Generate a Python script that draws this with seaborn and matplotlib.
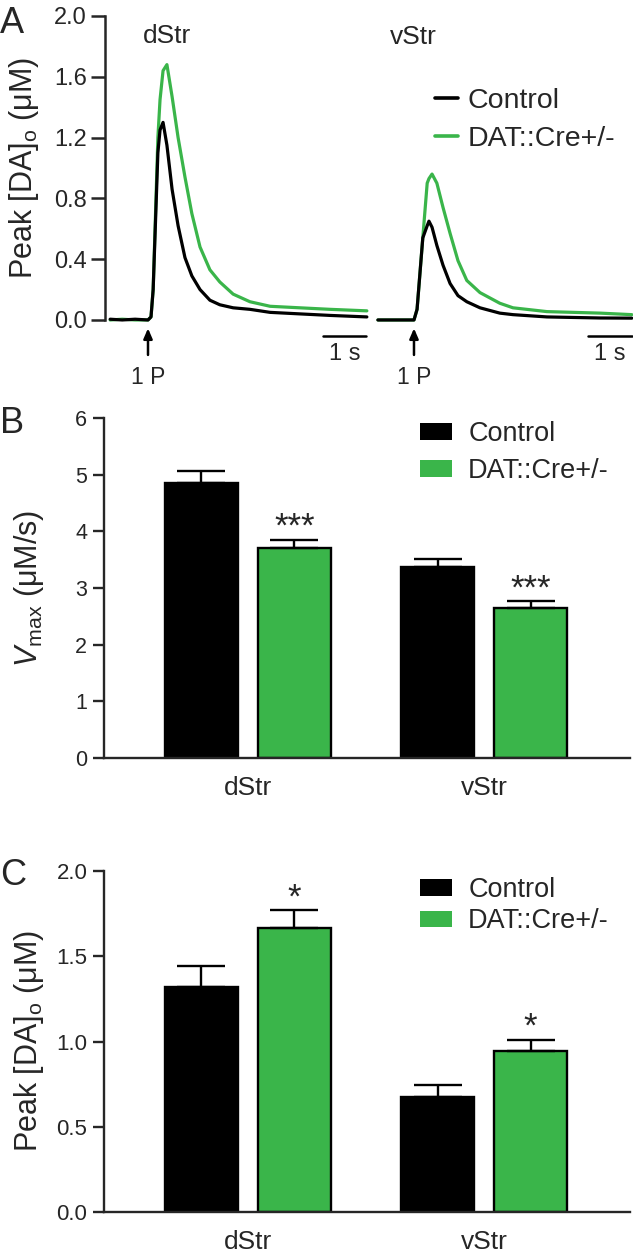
import numpy as np
import pandas as pd
import matplotlib
matplotlib.use('Agg')
import matplotlib.pyplot as plt
import seaborn as sns
from matplotlib.patches import Patch
from matplotlib.lines import Line2D

# DATA
genotypes = ['Control', 'DAT::Cre+/-']
regions = ['dStr', 'vStr']

# panel A traces (time in s from the stimulus, [DA]o in uM)
dstr_time = [-0.88, -0.6, -0.3, 0.0, 0.07, 0.12, 0.23, 0.28, 0.35, 0.44, 0.56, 0.70,
             0.86, 1.02, 1.21, 1.44, 1.67, 1.98, 2.37, 2.84, 3.53, 4.23, 5.09]
dstr_control = [0.005, 0.0, 0.005, 0.0, 0.02, 0.20, 1.10, 1.25, 1.30, 1.15, 0.86, 0.62,
                0.41, 0.29, 0.20, 0.13, 0.10, 0.08, 0.07, 0.05, 0.04, 0.03, 0.02]
dstr_dat = [0.0, 0.005, 0.0, 0.0, 0.02, 0.20, 1.20, 1.45, 1.64, 1.68, 1.47, 1.20,
            0.94, 0.70, 0.48, 0.33, 0.25, 0.17, 0.12, 0.09, 0.08, 0.07, 0.06]

vstr_time = [-0.82, -0.5, -0.2, 0.0, 0.07, 0.20, 0.30, 0.34, 0.41, 0.52, 0.66, 0.82,
             1.00, 1.20, 1.50, 1.95, 2.25, 3.02, 4.23, 4.95]
vstr_control = [0.0, 0.0, 0.0, 0.0, 0.07, 0.54, 0.62, 0.65, 0.61, 0.49, 0.36, 0.24,
                0.16, 0.12, 0.08, 0.045, 0.035, 0.02, 0.013, 0.012]
vstr_dat = [0.0, 0.0, 0.0, 0.0, 0.07, 0.54, 0.90, 0.93, 0.96, 0.90, 0.74, 0.57,
            0.39, 0.26, 0.18, 0.11, 0.08, 0.055, 0.045, 0.035]

# panel B: Vmax (uM/s), mean and SEM
vmax_control = [4.85, 3.37]
vmax_control_sem = [0.21, 0.14]
vmax_dat = [3.70, 2.65]
vmax_dat_sem = [0.15, 0.12]
vmax_stars = ['***', '***']

# panel C: peak [DA]o (uM), mean and SEM
peak_control = [1.32, 0.675]
peak_control_sem = [0.12, 0.07]
peak_dat = [1.665, 0.945]
peak_dat_sem = [0.105, 0.065]
peak_stars = ['*', '*']

GREEN = '#3ab54a'
palette = {'Control': 'black', 'DAT::Cre+/-': GREEN}

sns.set_style('white')
plt.rcParams['font.family'] = ['Liberation Sans', 'DejaVu Sans']
plt.rcParams['mathtext.fontset'] = 'custom'
plt.rcParams['mathtext.rm'] = 'Liberation Sans'
plt.rcParams['mathtext.it'] = 'Liberation Sans:italic'

W, H = 633, 1256
fig = plt.figure(figsize=(W / 100, H / 100), dpi=100)


def px(x, y):
    return x / W, 1 - y / H


def box(x0, y0, x1, y1):
    return [x0 / W, 1 - y1 / H, (x1 - x0) / W, (y1 - y0) / H]


# ---------------- panel A ----------------
traces = pd.concat([
    pd.DataFrame({'time': dstr_time, 'conc': dstr_control, 'genotype': 'Control', 'region': 'dStr'}),
    pd.DataFrame({'time': dstr_time, 'conc': dstr_dat, 'genotype': 'DAT::Cre+/-', 'region': 'dStr'}),
    pd.DataFrame({'time': vstr_time, 'conc': vstr_control, 'genotype': 'Control', 'region': 'vStr'}),
    pd.DataFrame({'time': vstr_time, 'conc': vstr_dat, 'genotype': 'DAT::Cre+/-', 'region': 'vStr'}),
])

axA1 = fig.add_axes(box(105, 16, 370, 380))
axA2 = fig.add_axes(box(375, 16, 633, 380))
xlims = [(-1.0, 5.163), (-0.886, 4.977)]
bars_s = [4.07, 3.95]

for ax, reg, xl, sb in zip([axA1, axA2], regions, xlims, bars_s):
    sub = traces[traces['region'] == reg]
    sns.lineplot(data=sub, x='time', y='conc', hue='genotype', hue_order=genotypes[::-1],
                 palette=palette, linewidth=2.3, errorbar=None, legend=False, ax=ax)
    ax.set_xlim(*xl)
    ax.set_ylim(-0.395, 2.0)
    ax.set_xlabel('')
    ax.set_xticks([])
    for s in ['top', 'right', 'bottom']:
        ax.spines[s].set_visible(False)
    # scale bar + label
    ax.plot([sb, sb + 1], [-0.105, -0.105], color='black', lw=1.8, clip_on=False)
    ax.annotate('1 s', xy=(sb + 0.5, -0.105), xytext=(0, -5), textcoords='offset points',
                ha='center', va='top', fontsize=17)
    # stimulus arrow
    ax.annotate('', xy=(0, -0.055), xytext=(0, -0.23),
                arrowprops=dict(arrowstyle='-|>,head_length=0.6,head_width=0.26',
                                color='black', lw=1.8, shrinkA=0, shrinkB=0))
    ax.text(0, -0.30, '1 P', ha='center', va='top', fontsize=16.5)

axA1.spines['left'].set_bounds(0, 2.0)
axA1.spines['left'].set_linewidth(1.8)
axA1.set_yticks(np.arange(0, 2.01, 0.4))
axA1.set_yticklabels([f'{v:.1f}' for v in np.arange(0, 2.01, 0.4)])
axA1.tick_params(axis='y', direction='out', length=10, width=1.8, labelsize=17, pad=3, left=True)
axA1.set_ylabel('Peak [DA]$_\\mathrm{o}$ ($\\mathrm{\\mu}$M)', fontsize=22)
axA1.yaxis.set_label_coords(*px(41, 168), transform=fig.transFigure)

axA2.spines['left'].set_visible(False)
axA2.set_yticks([])
axA2.set_ylabel('')

fig.text(*px(167, 24), 'dStr', ha='center', va='top', fontsize=19)
fig.text(*px(413, 25), 'vStr', ha='center', va='top', fontsize=19)

lineh = [Line2D([], [], color=palette[g], lw=2.6) for g in genotypes]
axA2.legend(lineh, genotypes, loc='upper left', bbox_to_anchor=px(435, 88),
            bbox_transform=fig.transFigure, frameon=False, fontsize=20.5,
            handlelength=0.8, handletextpad=0.35, labelspacing=0.42, borderpad=0,
            borderaxespad=0)


# ---------------- panels B and C ----------------
def bar_panel(rect, ctrl, ctrl_sem, dat, dat_sem, stars, ylim, yticks, fmt, tick_size,
              ylabel, label_y, leg_top, leg_spacing):
    ax = fig.add_axes(rect)
    df = pd.DataFrame({
        'region': regions * 2,
        'genotype': [genotypes[0]] * 2 + [genotypes[1]] * 2,
        'value': ctrl + dat,
    })
    sns.barplot(data=df, x='region', y='value', hue='genotype', hue_order=genotypes,
                palette=palette, saturation=1, edgecolor='black', linewidth=1.7,
                width=0.787, gap=0.215, errorbar=None, legend=False, ax=ax)
    for cont, sems in zip(ax.containers, [ctrl_sem, dat_sem]):
        for bar, s in zip(cont, sems):
            xc = bar.get_x() + bar.get_width() / 2
            ax.errorbar(xc, bar.get_height(), yerr=[[0], [s]], color='black',
                        elinewidth=1.7, capsize=17, capthick=1.7, zorder=3)
    for bar, s, st in zip(ax.containers[1], dat_sem, stars):
        xc = bar.get_x() + bar.get_width() / 2
        ax.annotate(st, xy=(xc, bar.get_height() + s), xytext=(0, 2),
                    textcoords='offset points', ha='center', va='baseline', fontsize=25)
    ax.set_xlim(-0.609, 1.618)
    ax.set_ylim(*ylim)
    ax.set_yticks(yticks)
    ax.set_yticklabels([fmt.format(v) for v in yticks])
    sns.despine(ax=ax)
    for s in ['left', 'bottom']:
        ax.spines[s].set_linewidth(1.7)
    ax.tick_params(axis='y', direction='out', length=8, width=1.7, labelsize=tick_size,
                   pad=4, left=True)
    ax.tick_params(axis='x', length=0, labelsize=19, pad=13)
    ax.set_xlabel('')
    ax.set_ylabel(ylabel, fontsize=22)
    ax.yaxis.set_label_coords(*px(46, label_y), transform=fig.transFigure)
    handles = [Patch(facecolor=palette[g], edgecolor='none') for g in genotypes]
    ax.legend(handles, genotypes, loc='upper left', bbox_to_anchor=px(420, leg_top),
              bbox_transform=fig.transFigure, frameon=False, fontsize=19.5,
              handlelength=1.18, handleheight=0.56, handletextpad=0.6,
              labelspacing=leg_spacing, borderpad=0, borderaxespad=0)
    return ax


axB = bar_panel(box(104, 418, 630, 758), vmax_control, vmax_control_sem, vmax_dat,
                vmax_dat_sem, vmax_stars, (0, 6), list(range(7)), '{:d}', 15.5,
                '$V_{\\mathrm{max}}$ ($\\mathrm{\\mu}$M/s)', 588, 421, 0.4)
axC = bar_panel(box(104, 871, 630, 1212), peak_control, peak_control_sem, peak_dat,
                peak_dat_sem, peak_stars, (0, 2.0), [0.0, 0.5, 1.0, 1.5, 2.0], '{:.1f}', 16,
                'Peak [DA]$_\\mathrm{o}$ ($\\mathrm{\\mu}$M)', 1041, 877, 0.2)

# panel letters
for letter, y in zip(['A', 'B', 'C'], [6, 406, 858]):
    fig.text(*px(0, y), letter, ha='left', va='top', fontsize=26)

fig.savefig('out.png', dpi=100)
